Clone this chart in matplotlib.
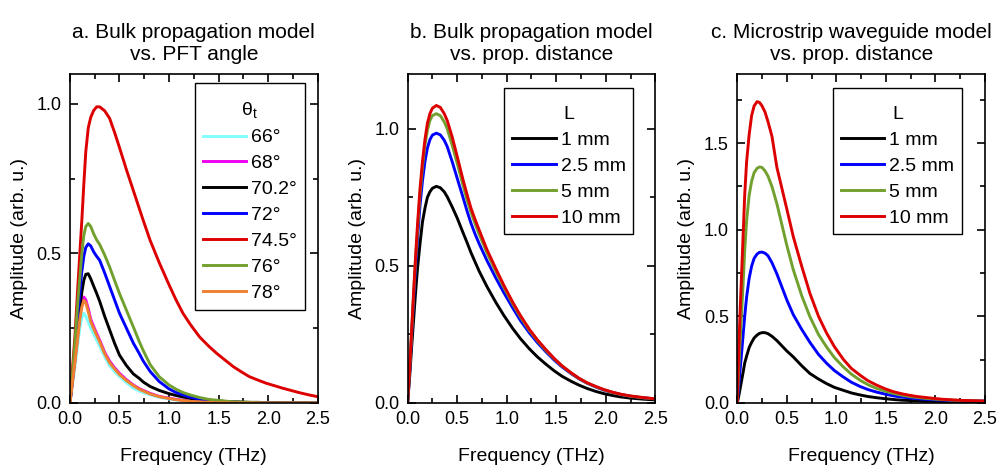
import matplotlib
matplotlib.use("Agg")
import matplotlib.pyplot as plt
from matplotlib.ticker import MultipleLocator
from matplotlib.offsetbox import DrawingArea

plt.rcParams["font.family"] = ["Liberation Sans", "DejaVu Sans"]

# ---- panel a: bulk model vs PFT angle ----
freq_a = [0, 0.02, 0.05, 0.08, 0.1, 0.12, 0.14, 0.16, 0.185, 0.21, 0.24, 0.27, 0.3, 0.35,
          0.4, 0.45, 0.5, 0.57, 0.64, 0.7, 0.74, 0.81, 0.9, 1.0, 1.07, 1.14, 1.22, 1.31,
          1.4, 1.48, 1.57, 1.65, 1.73, 1.81, 1.9, 1.98, 2.07, 2.15, 2.24, 2.32, 2.41, 2.5]
angle_labels = ["66°", "68°", "70.2°", "72°", "74.5°", "76°", "78°"]
amp_66 = [0, 0.05, 0.12, 0.2, 0.25, 0.285, 0.30, 0.29, 0.27, 0.25, 0.23, 0.21, 0.19, 0.155,
          0.125, 0.105, 0.088, 0.068, 0.049, 0.04, 0.035, 0.027, 0.019, 0.013, 0.01, 0.008,
          0.005, 0.004, 0.002, 0.001, 0.001, 0, 0, 0, 0, 0, 0, 0, 0, 0, 0, 0]
amp_68 = [0, 0.055, 0.14, 0.23, 0.29, 0.33, 0.354, 0.345, 0.315, 0.28, 0.255, 0.232, 0.21,
          0.17, 0.14, 0.118, 0.099, 0.078, 0.06, 0.048, 0.042, 0.032, 0.022, 0.016, 0.012,
          0.009, 0.006, 0.004, 0.003, 0.002, 0.001, 0.001, 0, 0, 0, 0, 0, 0, 0, 0, 0, 0]
amp_702 = [0, 0.06, 0.16, 0.26, 0.32, 0.37, 0.41, 0.43, 0.432, 0.415, 0.39, 0.366, 0.34,
           0.29, 0.245, 0.2, 0.16, 0.125, 0.097, 0.082, 0.07, 0.055, 0.042, 0.031, 0.025,
           0.02, 0.015, 0.012, 0.009, 0.007, 0.005, 0.004, 0.003, 0.002, 0.002, 0.001,
           0.001, 0, 0, 0, 0, 0]
amp_72 = [0, 0.065, 0.18, 0.3, 0.37, 0.44, 0.49, 0.52, 0.532, 0.525, 0.505, 0.49, 0.477,
          0.435, 0.39, 0.345, 0.30, 0.25, 0.20, 0.165, 0.14, 0.105, 0.072, 0.047, 0.035,
          0.027, 0.019, 0.012, 0.008, 0.006, 0.004, 0.003, 0.002, 0.001, 0.001, 0.001,
          0, 0, 0, 0, 0, 0]
amp_745 = [0, 0.09, 0.22, 0.39, 0.5, 0.61, 0.73, 0.84, 0.92, 0.955, 0.978, 0.99, 0.99,
           0.977, 0.952, 0.905, 0.854, 0.78, 0.71, 0.65, 0.61, 0.543, 0.47, 0.395, 0.345,
           0.30, 0.26, 0.22, 0.19, 0.166, 0.142, 0.121, 0.104, 0.088, 0.076, 0.066, 0.057,
           0.049, 0.041, 0.034, 0.027, 0.021]
amp_76 = [0, 0.07, 0.2, 0.34, 0.42, 0.5, 0.56, 0.59, 0.60, 0.59, 0.565, 0.545, 0.53, 0.495,
          0.455, 0.41, 0.366, 0.31, 0.254, 0.205, 0.175, 0.128, 0.088, 0.06, 0.046, 0.035,
          0.026, 0.018, 0.012, 0.009, 0.006, 0.004, 0.003, 0.002, 0.001, 0, 0, 0, 0, 0, 0, 0]
amp_78 = [0, 0.053, 0.135, 0.22, 0.28, 0.32, 0.343, 0.335, 0.305, 0.272, 0.248, 0.226, 0.205,
          0.165, 0.135, 0.114, 0.095, 0.075, 0.058, 0.046, 0.04, 0.03, 0.021, 0.015, 0.011,
          0.008, 0.005, 0.004, 0.002, 0.001, 0.001, 0, 0, 0, 0, 0, 0, 0, 0, 0, 0, 0]

# ---- panel b: bulk model vs distance ----
freq_b = [0, 0.02, 0.04, 0.06, 0.08, 0.1, 0.125, 0.15, 0.175, 0.2, 0.225, 0.25, 0.29, 0.33,
          0.37, 0.4, 0.45, 0.5, 0.555, 0.6, 0.64, 0.68, 0.723, 0.8, 0.89, 0.97, 1.06, 1.14,
          1.23, 1.31, 1.40, 1.48, 1.56, 1.65, 1.73, 1.81, 1.9, 1.98, 2.07, 2.15, 2.24, 2.37, 2.5]
dist_labels = ["1 mm", "2.5 mm", "5 mm", "10 mm"]
b_1mm = [0, 0.09, 0.2, 0.3, 0.4, 0.49, 0.58, 0.66, 0.71, 0.75, 0.77, 0.783, 0.79, 0.785,
         0.77, 0.752, 0.715, 0.675, 0.625, 0.585, 0.548, 0.515, 0.48, 0.425, 0.367, 0.32,
         0.272, 0.234, 0.197, 0.168, 0.14, 0.117, 0.097, 0.079, 0.065, 0.053, 0.042, 0.034,
         0.027, 0.022, 0.018, 0.014, 0.011]
b_25mm = [0, 0.11, 0.24, 0.37, 0.49, 0.6, 0.72, 0.81, 0.88, 0.93, 0.96, 0.977, 0.984, 0.978,
          0.958, 0.935, 0.88, 0.82, 0.755, 0.70, 0.655, 0.617, 0.58, 0.52, 0.456, 0.403,
          0.347, 0.30, 0.255, 0.22, 0.185, 0.156, 0.131, 0.107, 0.088, 0.072, 0.058, 0.047,
          0.038, 0.031, 0.025, 0.019, 0.015]
b_5mm = [0, 0.12, 0.25, 0.39, 0.52, 0.63, 0.76, 0.86, 0.94, 0.995, 1.03, 1.048, 1.055, 1.048,
         1.025, 1.0, 0.94, 0.875, 0.80, 0.74, 0.695, 0.655, 0.615, 0.548, 0.48, 0.423, 0.362,
         0.313, 0.264, 0.227, 0.19, 0.16, 0.134, 0.109, 0.089, 0.073, 0.059, 0.048, 0.038,
         0.031, 0.025, 0.019, 0.015]
b_10mm = [0, 0.12, 0.26, 0.40, 0.53, 0.65, 0.78, 0.88, 0.96, 1.02, 1.055, 1.075, 1.085, 1.078,
          1.055, 1.03, 0.97, 0.9, 0.82, 0.76, 0.71, 0.67, 0.63, 0.56, 0.49, 0.43, 0.368, 0.318,
          0.268, 0.23, 0.193, 0.162, 0.135, 0.11, 0.09, 0.074, 0.06, 0.049, 0.039, 0.032,
          0.026, 0.02, 0.015]

# ---- panel c: microstrip model vs distance ----
freq_c = [0, 0.015, 0.03, 0.044, 0.06, 0.075, 0.094, 0.12, 0.145, 0.17, 0.2, 0.225, 0.25,
          0.28, 0.31, 0.35, 0.4, 0.45, 0.5, 0.565, 0.65, 0.733, 0.82, 0.9, 0.98, 1.07, 1.15,
          1.24, 1.32, 1.41, 1.5, 1.575, 1.66, 1.74, 1.83, 1.91, 2.0, 2.08, 2.17, 2.25, 2.37, 2.5]
c_1mm = [0, 0.04, 0.085, 0.13, 0.18, 0.23, 0.27, 0.32, 0.35, 0.375, 0.392, 0.402, 0.406,
         0.406, 0.4, 0.385, 0.36, 0.33, 0.30, 0.266, 0.215, 0.17, 0.138, 0.112, 0.09, 0.073,
         0.058, 0.046, 0.037, 0.03, 0.024, 0.02, 0.016, 0.014, 0.012, 0.01, 0.009, 0.008,
         0.007, 0.007, 0.006, 0.006]
c_25mm = [0, 0.1, 0.2, 0.29, 0.4, 0.5, 0.61, 0.72, 0.79, 0.835, 0.86, 0.87, 0.871, 0.865,
          0.85, 0.81, 0.745, 0.67, 0.595, 0.51, 0.425, 0.35, 0.28, 0.23, 0.187, 0.15, 0.12,
          0.095, 0.077, 0.062, 0.05, 0.041, 0.034, 0.029, 0.024, 0.021, 0.018, 0.016, 0.014,
          0.013, 0.012, 0.011]
c_5mm = [0, 0.2, 0.37, 0.52, 0.7, 0.88, 1.05, 1.2, 1.28, 1.33, 1.355, 1.363, 1.36, 1.34,
         1.31, 1.25, 1.15, 1.03, 0.91, 0.77, 0.62, 0.498, 0.395, 0.324, 0.262, 0.208, 0.167,
         0.131, 0.105, 0.083, 0.067, 0.055, 0.045, 0.037, 0.031, 0.026, 0.022, 0.019, 0.016,
         0.014, 0.012, 0.01]
c_10mm = [0, 0.3, 0.55, 0.75, 0.98, 1.2, 1.39, 1.55, 1.66, 1.715, 1.74, 1.735, 1.715, 1.68,
          1.625, 1.54, 1.36, 1.24, 1.12, 0.961, 0.79, 0.633, 0.50, 0.405, 0.325, 0.252, 0.2,
          0.16, 0.128, 0.102, 0.08, 0.065, 0.053, 0.044, 0.036, 0.031, 0.025, 0.021, 0.018,
          0.015, 0.013, 0.011]

angle_colors = ["#80FFFF", "#F000F0", "#000000", "#0000FF", "#DD0000", "#72A02E", "#EE8030"]
dist_colors = ["#000000", "#0000FF", "#72A02E", "#DD0000"]

fig = plt.figure(figsize=(9.99, 4.68), dpi=100)
axa = fig.add_axes([0.070, 0.139, 0.248, 0.703])
axb = fig.add_axes([0.408, 0.139, 0.248, 0.703])
axc = fig.add_axes([0.738, 0.139, 0.248, 0.703])

for ys, lab, col in zip([amp_66, amp_68, amp_702, amp_72, amp_745, amp_76, amp_78],
                        angle_labels, angle_colors):
    axa.plot(freq_a, ys, color=col, lw=2.1, label=lab)

for ys, lab, col in zip([b_1mm, b_25mm, b_5mm, b_10mm], dist_labels, dist_colors):
    axb.plot(freq_b, ys, color=col, lw=2.1, label=lab)

for ys, lab, col in zip([c_1mm, c_25mm, c_5mm, c_10mm], dist_labels, dist_colors):
    axc.plot(freq_c, ys, color=col, lw=2.1, label=lab)

titulos = ["a. Bulk propagation model\nvs. PFT angle",
           "b. Bulk propagation model\nvs. prop. distance",
           "c. Microstrip waveguide model\nvs. prop. distance"]
title_x = [0.5, 0.5, 0.46]
ylims = [1.1, 1.2, 1.9]
anchors = [(0.948, 0.973), (0.911, 0.957), (0.907, 0.957)]
leg_titles = [r"$\mathregular{θ_t}$", "L", "L"]

for ax, tit, tx, ym, anc, lt in zip([axa, axb, axc], titulos, title_x, ylims, anchors, leg_titles):
    ax.set_xlim(0, 2.5)
    ax.set_ylim(0, ym)
    ax.xaxis.set_major_locator(MultipleLocator(0.5))
    ax.xaxis.set_minor_locator(MultipleLocator(0.25))
    ax.yaxis.set_major_locator(MultipleLocator(0.5))
    ax.yaxis.set_minor_locator(MultipleLocator(0.25))
    ax.tick_params(which="both", direction="in", top=True, right=True, labelsize=13, width=1.2)
    ax.tick_params(which="major", length=6, pad=6)
    ax.tick_params(which="minor", length=3.5)
    for s in ax.spines.values():
        s.set_linewidth(1.2)
    t = ax.set_title(tit, fontsize=15, pad=10)
    t.set_x(tx)
    ax.set_xlabel("Frequency (THz)", fontsize=14, labelpad=14)
    ax.set_ylabel("Amplitude (arb. u.)", fontsize=14, labelpad=6)
    leg = ax.legend(loc="upper right", bbox_to_anchor=anc, borderaxespad=0, fontsize=14,
                    title=lt, title_fontsize=14, fancybox=False, framealpha=1,
                    edgecolor="black", handlelength=2.25, handletextpad=0.25,
                    labelspacing=0.43, borderpad=0.4)
    leg.get_frame().set_linewidth(1.0)
    # un poco mas de aire encima del titulo de la leyenda
    leg._legend_box._children.insert(0, DrawingArea(1, 1))

plt.savefig("out.png", dpi=100)
